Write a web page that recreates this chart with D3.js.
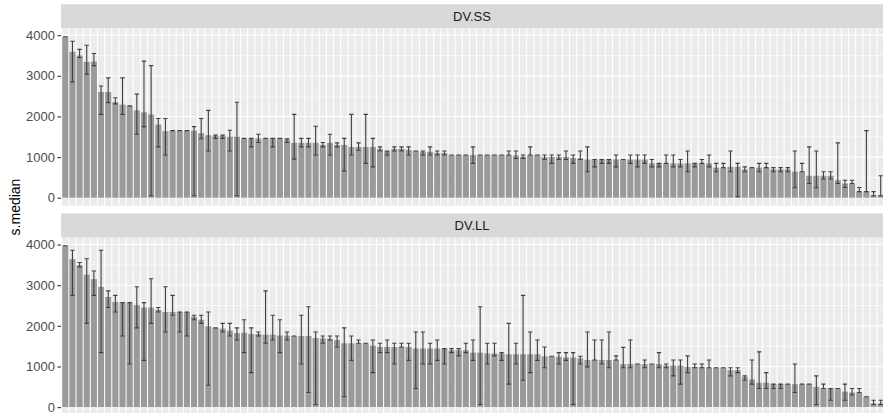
<!DOCTYPE html>
<html>
<head>
<meta charset="utf-8">
<style>
  body { margin: 0; background: #fff; }
  svg { display: block; }
  text { font-family: "Liberation Sans", Arial, sans-serif; }
</style>
<script src="https://d3js.org/d3.v7.min.js"></script>
</head>
<body>
<div id="chart"></div>
<script>
// DV.SS : median with lower / upper interval ends
var ss_median = [3960,3590,3500,3340,3350,2600,2600,2350,2290,2260,2150,2100,2050,1800,1640,1650,1650,1650,1650,1590,
  1540,1520,1520,1500,1500,1460,1460,1460,1460,1460,1460,1440,1350,1350,1350,1350,1300,1350,1300,1300,
  1250,1250,1250,1250,1200,1150,1200,1200,1180,1150,1130,1130,1100,1100,1050,1050,1050,1050,1050,1050,
  1050,1050,1050,1040,1010,1050,1050,1000,1000,1000,1000,980,970,940,940,940,940,940,940,940,
  940,940,845,845,845,845,845,845,845,845,845,740,740,760,760,700,740,740,740,700,
  700,700,640,640,540,540,540,540,430,350,350,150,150,60,60];
var ss_low = [3960,2850,3450,3040,3250,2050,2340,2310,2050,2260,1560,1750,50,1250,1050,1650,1650,1650,50,1450,
  1150,1460,1460,1150,50,1460,1250,1360,1460,1250,1460,1360,950,1250,1250,1050,1250,1050,1250,660,
  1050,1170,845,760,1150,1050,1150,1150,1050,1150,1050,1050,1050,1050,1050,1050,1050,845,1050,1050,
  1050,1050,1050,965,965,1050,1050,940,845,940,940,845,940,640,760,845,845,760,940,845,
  760,845,760,760,845,760,760,640,760,845,760,640,740,640,25,640,740,640,740,640,
  640,640,245,640,350,245,460,460,350,250,350,150,150,50,50];
var ss_high = [3960,3850,3650,3750,3550,2750,2950,2460,2950,2260,2550,3360,3250,1950,1950,1650,1650,1650,1750,1950,
  2150,1540,1540,1660,2350,1460,1460,1560,1460,1460,1460,1450,2050,1460,1460,1760,1360,1560,1350,1460,
  2050,1350,2050,1460,1250,1150,1250,1250,1250,1150,1150,1250,1150,1150,1050,1050,1050,1250,1050,1050,
  1050,1050,1150,1150,1050,1250,1050,1050,1050,1050,1150,1050,1150,1250,940,940,940,1050,940,1050,
  1050,1050,940,845,1050,1050,940,1150,845,940,1050,845,845,1150,845,760,740,845,845,740,
  740,740,1150,845,1250,1150,640,640,1350,430,430,250,1650,150,540];

// DV.LL
var ll_median = [3970,3640,3490,3260,3150,2960,2710,2590,2570,2570,2510,2450,2450,2390,2340,2340,2340,2340,2220,2150,
  1990,1950,1930,1880,1820,1830,1800,1800,1780,1780,1760,1760,1750,1750,1750,1700,1690,1680,1650,1570,
  1570,1570,1570,1510,1480,1480,1480,1480,1480,1440,1440,1440,1440,1440,1400,1400,1400,1340,1340,1320,
  1320,1320,1300,1300,1300,1300,1300,1250,1250,1240,1220,1220,1200,1160,1160,1160,1160,1160,1060,1060,
  1060,1060,1060,1060,1020,1020,1020,990,990,990,970,970,970,910,910,745,680,600,600,565,
  565,565,565,565,565,500,460,460,460,380,360,360,255,90,90];
var ll_low = [3970,2750,3450,2060,2750,1340,2450,2340,1750,1060,1950,1150,2060,2340,1850,2260,1850,1750,2150,2060,
  540,1950,1850,1750,1650,1340,850,1750,1570,1650,1340,1650,1750,1060,360,65,1570,1650,1480,255,
  1150,1570,1570,850,1340,1340,1060,1480,1150,460,1060,1060,1150,1060,1340,1260,1340,1150,65,1060,
  1260,1150,565,1060,660,850,1150,970,1250,1060,1150,65,1060,990,1160,1060,970,1160,970,970,
  1060,970,1060,970,970,770,565,850,970,970,970,970,970,770,850,660,565,460,460,460,
  460,565,360,565,565,65,460,170,460,170,300,360,255,65,65];
var ll_high = [3970,3860,3560,3650,3350,3860,2860,2750,2570,2570,2960,2570,3160,2450,2960,2750,2340,2340,2260,2260,
  2340,1950,2060,2060,1950,2150,1950,1850,2860,2260,2150,1850,1750,2260,2470,1850,1750,1750,1750,1950,
  1750,1650,1570,1650,1570,1650,1570,1570,1570,1850,1850,1570,1650,1440,1440,1440,1570,1650,2470,1570,
  1570,1340,2060,1570,2750,1850,1650,1480,1250,1340,1340,1340,1250,1850,1650,1650,1850,1260,1470,1650,
  1060,1160,1060,1340,1060,1160,1160,1260,1060,1060,1160,970,970,970,970,770,1160,1360,850,565,
  565,565,1060,565,565,770,565,460,460,565,460,460,255,170,170];

var facets = ["DV.SS", "DV.LL"];
var yTicks = [0, 1000, 2000, 3000, 4000];
var yMinor = [500, 1500, 2500, 3500];
var subjects = ss_median.map(function (d, i) { return "s" + (i + 1); });

var series = [
  { name: facets[0], median: ss_median, low: ss_low, high: ss_high },
  { name: facets[1], median: ll_median, low: ll_low, high: ll_high }
];

var width = 883, height = 413;
var panelLeft = 61, panelRight = 885;
var boxes = [
  { stripTop: 4.3, top: 28.3, bottom: 205.8 },
  { stripTop: 213.3, top: 237.7, bottom: 415.2 }
];

var svg = d3.select("#chart").append("svg")
    .attr("width", width)
    .attr("height", height)
    .style("overflow", "hidden");

var x = d3.scaleBand()
    .domain(subjects)
    .range([panelLeft, panelRight])
    .paddingInner(0.15)
    .paddingOuter(0.175);
var step = x.step();

var maxVal = d3.max(series, function (s) { return Math.max(d3.max(s.median), d3.max(s.high)); });

series.forEach(function (s, k) {
  var b = boxes[k];
  var y = d3.scaleLinear()
      .domain([-0.05 * maxVal, 1.05 * maxVal])
      .range([b.bottom, b.top]);

  var g = svg.append("g");

  // strip
  g.append("rect")
      .attr("x", panelLeft).attr("y", b.stripTop)
      .attr("width", panelRight - panelLeft).attr("height", b.top - b.stripTop)
      .attr("fill", "#d9d9d9");
  g.append("text")
      .attr("x", (panelLeft + panelRight) / 2 - 1)
      .attr("y", (b.stripTop + b.top) / 2)
      .attr("dy", "0.35em")
      .attr("text-anchor", "middle")
      .attr("font-size", 13)
      .attr("fill", "#1a1a1a")
      .text(s.name);

  // panel
  g.append("rect")
      .attr("x", panelLeft).attr("y", b.top)
      .attr("width", panelRight - panelLeft).attr("height", b.bottom - b.top)
      .attr("fill", "#ebebeb");

  g.selectAll(".minor").data(yMinor).enter().append("line")
      .attr("x1", panelLeft).attr("x2", panelRight)
      .attr("y1", function (d) { return y(d); }).attr("y2", function (d) { return y(d); })
      .attr("stroke", "#fff").attr("stroke-width", 0.6);
  g.selectAll(".major").data(yTicks).enter().append("line")
      .attr("x1", panelLeft).attr("x2", panelRight)
      .attr("y1", function (d) { return y(d); }).attr("y2", function (d) { return y(d); })
      .attr("stroke", "#fff").attr("stroke-width", 1.1);

  // vertical grid between bars
  g.selectAll(".vgrid").data(subjects).enter().append("line")
      .attr("x1", function (d) { return x(d) - step * 0.075; })
      .attr("x2", function (d) { return x(d) - step * 0.075; })
      .attr("y1", b.top).attr("y2", b.bottom)
      .attr("stroke", "#fff").attr("stroke-width", 1.1);

  // bars
  g.selectAll(".bar").data(s.median).enter().append("rect")
      .attr("x", function (d, i) { return x(subjects[i]); })
      .attr("width", x.bandwidth())
      .attr("y", function (d) { return y(d); })
      .attr("height", function (d) { return y(0) - y(d); })
      .attr("fill", "#9a9a9a");

  // error bars
  var cap = step * 0.3;
  var eb = g.selectAll(".err").data(s.median).enter().append("g")
      .attr("stroke", "#404040").attr("stroke-width", 1.1).attr("fill", "none");
  eb.append("path")
      .attr("d", function (d, i) {
        var cx = x(subjects[i]) + x.bandwidth() / 2;
        var lo = y(s.low[i]), hi = y(s.high[i]);
        return "M" + (cx - cap) + "," + hi + "H" + (cx + cap) +
               "M" + cx + "," + hi + "V" + lo +
               "M" + (cx - cap) + "," + lo + "H" + (cx + cap);
      });

  // y axis
  var axis = svg.append("g")
      .attr("transform", "translate(" + panelLeft + ",0)")
      .call(d3.axisLeft(y).tickValues(yTicks).tickFormat(d3.format("d"))
        .tickSize(3.5).tickPadding(2.5));
  axis.select(".domain").remove();
  axis.selectAll(".tick line").attr("stroke", "#333").attr("stroke-width", 1.1);
  axis.selectAll(".tick text")
      .attr("fill", "#4d4d4d")
      .attr("font-size", 13)
      .attr("font-family", "'Liberation Sans', Arial, sans-serif");
});

svg.append("text")
    .attr("transform", "translate(15,207) rotate(-90)")
    .attr("text-anchor", "middle")
    .attr("dy", "0.35em")
    .attr("font-size", 14)
    .attr("fill", "#000")
    .text("s.median");
</script>
</body>
</html>
